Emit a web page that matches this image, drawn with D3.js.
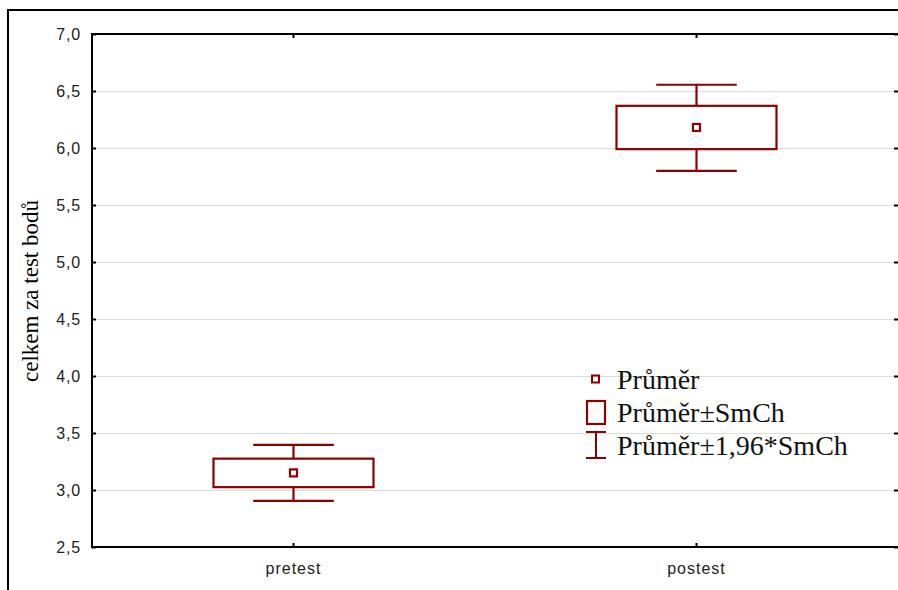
<!DOCTYPE html>
<html>
<head>
	<meta http-equiv="Content-Type" content="text/html;charset=UTF-8">
	<title>celkem za test bodů</title>
	<style>
		body { margin: 0; background: #fff; }
		.axis text { font-family: "Liberation Sans", Arial, sans-serif; font-size: 16px; fill: #222; }
		.axis line { stroke: #000; stroke-width: 2; }
		.grid-line { stroke: #dcdcdc; stroke-width: 1; }
	</style>
</head>
<body>

	<div class="chart"></div>

	<script src="https://d3js.org/d3.v7.min.js"></script>
	<script type="text/javascript">

		// data
		var categories = ["pretest", "postest"];
		var means  = [3.15, 6.18];
		var seLow  = [3.025, 5.99];
		var seHigh = [3.275, 6.37];
		var ciLow  = [2.905, 5.80];
		var ciHigh = [3.395, 6.555];
		var yTicks = [2.5, 3.0, 3.5, 4.0, 4.5, 5.0, 5.5, 6.0, 6.5, 7.0];
		var yTitle = "celkem za test bodů";
		var legendLabels = ["Průměr", "Průměr±SmCh", "Průměr±1,96*SmCh"];

		var w = 898, h = 590;
		var pLeft = 92, pRight = 898, pTop = 34, pBottom = 547;
		var red = "#8b0000";

		var SVG = d3.select("div.chart").append("svg")
					.attr("width", w)
					.attr("height", h);

		var x = d3.scaleBand()
				  .domain(categories)
				  .range([pLeft, pRight]);

		var y = d3.scaleLinear()
				  .domain([2.5, 7.0])
				  .range([pBottom, pTop]);

		var fmt = function(d){ return d3.format(".1f")(d).replace(".", ","); };

		// outer frame
		SVG.append("path")
			.attr("d", "M8," + (h + 5) + "V10H" + (w + 5))
			.attr("fill", "none")
			.attr("stroke", "#000")
			.attr("stroke-width", 2);

		// grid lines
		SVG.append("g").selectAll("line")
			.data(yTicks.filter(function(d){ return d > 2.5 && d < 7.0; }))
			.enter().append("line")
			.attr("class", "grid-line")
			.attr("x1", pLeft).attr("x2", pRight - 3)
			.attr("y1", function(d){ return Math.round(y(d)) + 0.5; })
			.attr("y2", function(d){ return Math.round(y(d)) + 0.5; });

		// axes (ticks inward)
		var yAxis = d3.axisLeft(y).tickValues(yTicks).tickFormat(fmt)
					  .tickSizeInner(-4).tickSizeOuter(0).tickPadding(11);
		var gy = SVG.append("g").attr("class", "axis")
			.attr("transform", "translate(" + pLeft + ",0)")
			.call(yAxis);
		gy.select(".domain").remove();
		gy.selectAll("text").attr("dy", "0.34em").attr("letter-spacing", "0.8px");

		var yAxisR = d3.axisRight(y).tickValues(yTicks).tickFormat("")
					  .tickSizeInner(-4).tickSizeOuter(0);
		SVG.append("g").attr("class", "axis")
			.attr("transform", "translate(" + pRight + ",0)")
			.call(yAxisR)
			.select(".domain").remove();

		var xAxis = d3.axisBottom(x).tickSizeInner(-4).tickSizeOuter(0).tickPadding(16);
		var gx = SVG.append("g").attr("class", "axis")
			.attr("transform", "translate(0," + pBottom + ")")
			.call(xAxis);
		gx.select(".domain").remove();
		gx.selectAll("text").attr("letter-spacing", "1px");

		var xAxisT = d3.axisTop(x).tickFormat("").tickSizeInner(-4).tickSizeOuter(0);
		SVG.append("g").attr("class", "axis")
			.attr("transform", "translate(0," + pTop + ")")
			.call(xAxisT)
			.select(".domain").remove();

		// plot frame
		SVG.append("path")
			.attr("d", "M" + (w + 5) + "," + pTop + "H" + pLeft + "V" + pBottom + "H" + (w + 5))
			.attr("fill", "none")
			.attr("stroke", "#000")
			.attr("stroke-width", 2);

		// y title
		SVG.append("text")
			.attr("transform", "translate(38,291) rotate(-90)")
			.attr("text-anchor", "middle")
			.style("font-family", "'Liberation Serif', 'Times New Roman', serif")
			.style("font-size", "23px")
			.text(yTitle);

		// boxes
		var bw = x.bandwidth();
		var idx = d3.range(categories.length);
		var cx = function(i){ return x(categories[i]) + bw / 2; };
		var g = SVG.append("g")
			.attr("fill", "none")
			.attr("stroke", red)
			.attr("stroke-width", 2.2);

		idx.forEach(function(i){
			var c = cx(i), box = bw * 0.397, cap = bw * 0.2;
			g.append("line").attr("x1", c).attr("x2", c).attr("y1", y(ciHigh[i])).attr("y2", y(seHigh[i]));
			g.append("line").attr("x1", c).attr("x2", c).attr("y1", y(seLow[i])).attr("y2", y(ciLow[i]));
			g.append("line").attr("x1", c - cap / 2).attr("x2", c + cap / 2).attr("y1", y(ciHigh[i])).attr("y2", y(ciHigh[i]));
			g.append("line").attr("x1", c - cap / 2).attr("x2", c + cap / 2).attr("y1", y(ciLow[i])).attr("y2", y(ciLow[i]));
			g.append("rect")
				.attr("x", c - box / 2).attr("width", box)
				.attr("y", y(seHigh[i])).attr("height", y(seLow[i]) - y(seHigh[i]))
				.attr("fill", "#fff");
			g.append("rect")
				.attr("x", c - 3.5).attr("y", y(means[i]) - 3.5)
				.attr("width", 7).attr("height", 7);
		});

		// legend
		var lg = SVG.append("g");
		var rowY = [379, 412, 445];
		lg.append("rect").attr("x", 592).attr("y", rowY[0] - 3.5).attr("width", 7).attr("height", 7)
			.attr("fill", "none").attr("stroke", red).attr("stroke-width", 2);
		lg.append("rect").attr("x", 587).attr("y", rowY[1] - 11).attr("width", 18).attr("height", 23)
			.attr("fill", "none").attr("stroke", red).attr("stroke-width", 2.2);
		lg.append("path").attr("d", "M586," + (rowY[2] - 13) + "H606M596," + (rowY[2] - 13) + "V" + (rowY[2] + 13) + "M586," + (rowY[2] + 13) + "H606")
			.attr("fill", "none").attr("stroke", red).attr("stroke-width", 2);

		lg.selectAll("text")
			.data(legendLabels)
			.enter().append("text")
			.attr("x", 617)
			.attr("y", function(d, i){ return rowY[i] + 10; })
			.style("font-family", "'Liberation Serif', 'Times New Roman', serif")
			.style("font-size", "28px")
			.style("fill", "#111")
			.text(function(d){ return d; });
	</script>
</body>
</html>
